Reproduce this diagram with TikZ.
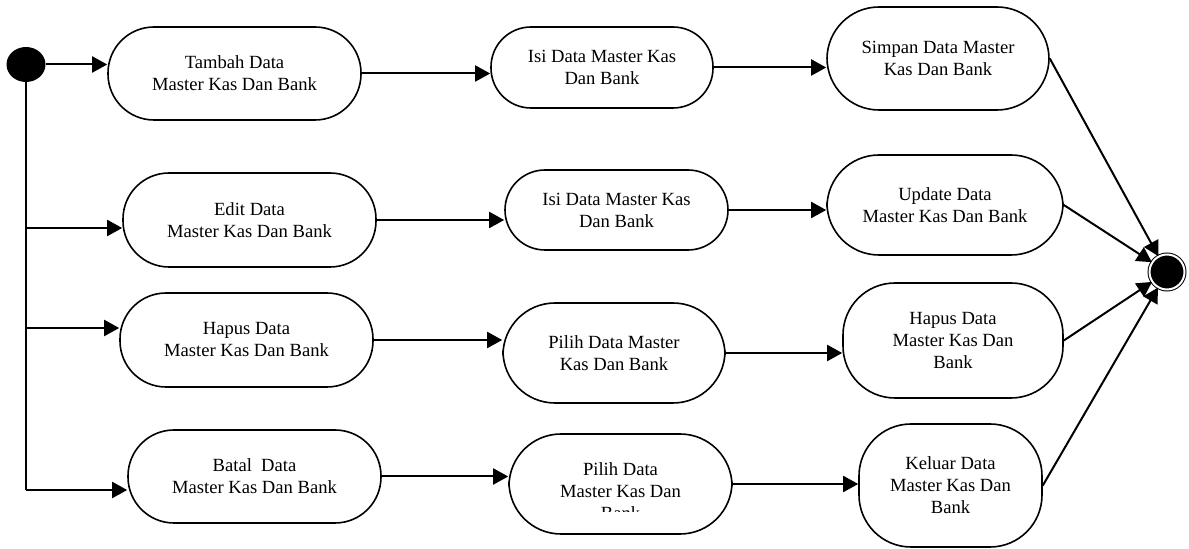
\documentclass[tikz,border=0pt]{standalone}
\usepackage{fontspec}
\setmainfont{Liberation Serif}
\usetikzlibrary{arrows.meta, shapes.geometric}

\tikzset{
  act/.style={draw, line width=0.8pt, rounded corners=20pt, align=center, inner sep=0pt,
    font=\fontsize{9.3}{11}\selectfont},
  wide/.style={rounded corners=23pt},
  tall/.style={rounded corners=26pt},
  flow/.style={line width=1pt, -{Triangle[length=7.5pt,width=8pt]}},
  trunk/.style={line width=1pt},
}

\begin{document}
\begin{tikzpicture}[x=0.5pt, y=-0.5pt]

    \useasboundingbox (0,0) rectangle (1189,549);

    % start and end state
    \node[ellipse, fill=black, minimum width=19.5pt, minimum height=17.5pt, inner sep=0pt] (init) at (26,64.5) {};
    \node[circle, draw, fill=black, line width=0.5pt, double=white, double distance=1pt,
          minimum size=17.5pt, inner sep=0pt] (fin) at (1167,272) {};

    % branch points on the left line
    \coordinate (j2) at (26,228);
    \coordinate (j3) at (26,328);
    \coordinate (j4) at (26,490);

    % tambah
    \node[act, wide, minimum width=126.5pt, minimum height=46.5pt] (t1) at (234.5,73.5) {Tambah Data\\Master Kas Dan Bank};
    \node[act, minimum width=111pt, minimum height=40.5pt] (t2) at (602,67.5) {Isi Data Master Kas\\Dan Bank};
    \node[act, tall, minimum width=111pt, minimum height=51.5pt] (t3) at (938,58.5) {Simpan Data Master\\Kas Dan Bank};

    % edit
    \node[act, wide, minimum width=126.5pt, minimum height=47pt] (e1) at (249.5,220) {Edit Data\\Master Kas Dan Bank};
    \node[act, minimum width=111.5pt, minimum height=40pt] (e2) at (616.5,210) {Isi Data Master Kas\\Dan Bank};
    \node[act, tall, minimum width=118pt, minimum height=50pt] (e3) at (945,205) {Update Data\\Master Kas Dan Bank};

    % hapus
    \node[act, wide, minimum width=126.5pt, minimum height=47pt] (h1) at (246.5,340) {Hapus Data\\Master Kas Dan Bank};
    \node[act, tall, minimum width=111pt, minimum height=50pt] (h2) at (614,353) {Pilih Data Master\\Kas Dan Bank};
    \node[act, tall, minimum width=110pt, minimum height=57.5pt] (h3) at (953,340.5) {Hapus Data\\Master Kas Dan\\Bank};

    % batal
    \node[act, wide, minimum width=126.5pt, minimum height=46.5pt] (b1) at (254.5,476.5) {Batal\ \ Data\\Master Kas Dan Bank};
    \node[act, tall, minimum width=111.5pt, minimum height=50pt] (b2) at (620.5,484) {};
    \begin{scope}
        \clip (b2.north west) rectangle (b2.east |- 0,512);
        \node[act, draw=none] (b2text) at (620.5,491) {Pilih Data\\Master Kas Dan\\Bank};
    \end{scope}
    \node[act, tall, minimum width=91.5pt, minimum height=61.5pt] (b3) at (950.5,485.5) {Keluar Data\\Master Kas Dan\\Bank};

    % left line and branches
    \draw[trunk] (init.south) -- (j4);
    \draw[flow] (init.east) -- (init.east -| t1.west);
    \draw[flow] (j2) -- (j2 -| e1.west);
    \draw[flow] (j3) -- (j3 -| h1.west);
    \draw[flow] (j4) -- (j4 -| b1.west);

    % rows
    \draw[flow] (t1.east) -- (t1.east -| t2.west);
    \draw[flow] (t2.east) -- (t2.east -| t3.west);
    \draw[flow] (e1.east) -- (e1.east -| e2.west);
    \draw[flow] (e2.east) -- (e2.east -| e3.west);
    \draw[flow] (h1.east) -- (h1.east -| h2.west);
    \draw[flow] (h2.east) -- (h2.east -| h3.west);
    \draw[flow] (b1.east) -- (b1.east -| b2.west);
    \draw[flow] (b2.east) -- (b2.east -| b3.west);

    % to end state
    \draw[flow] (t3.east) -- (fin);
    \draw[flow] (e3.east) -- (fin);
    \draw[flow] (h3.east) -- (fin);
    \draw[flow] (b3.east) -- (fin);

\end{tikzpicture}
\end{document}
